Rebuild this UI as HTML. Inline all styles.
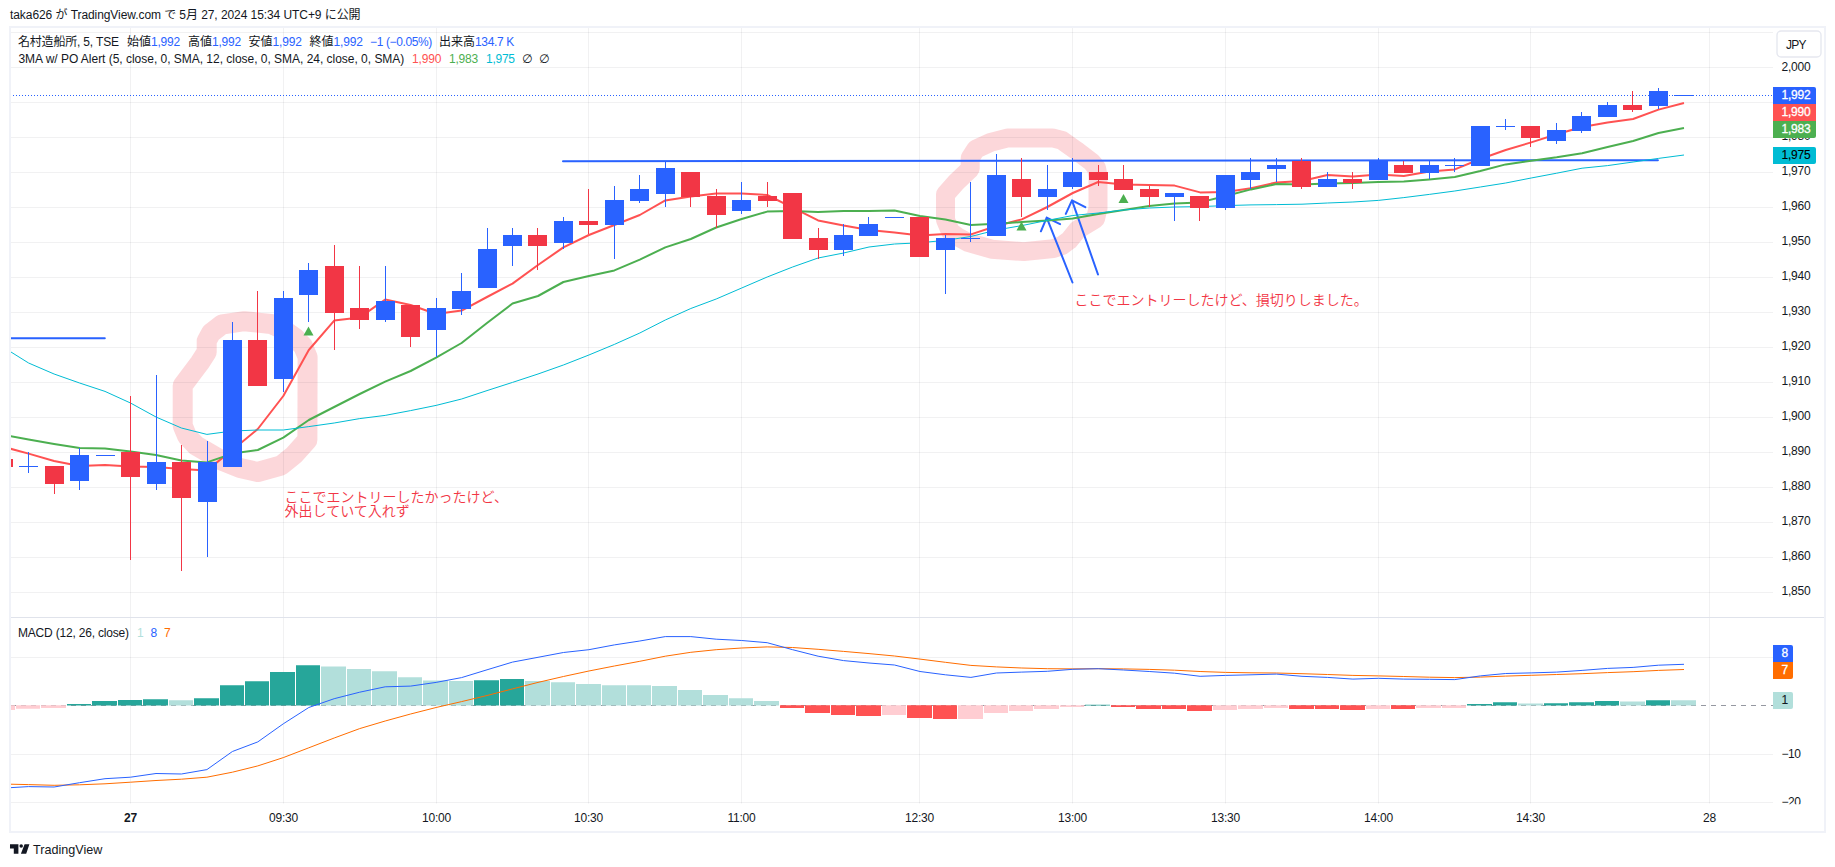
<!DOCTYPE html>
<html lang="ja"><head><meta charset="utf-8"><title>名村造船所 chart</title>
<style>html,body{margin:0;padding:0;background:#fff;}body{width:1835px;height:867px;overflow:hidden;position:relative;}svg{position:absolute;left:0;top:0;display:block;}text{font-family:"Liberation Sans", "Noto Sans CJK JP", sans-serif;font-size:12px;fill:#131722;}.ax text{letter-spacing:-0.24px;}.tg text{letter-spacing:-0.24px;stroke-width:0.3px;}.t{position:absolute;white-space:pre;font-family:"Liberation Sans", "Noto Sans CJK JP", sans-serif;color:#131722;font-size:12px;line-height:14px;}</style></head><body>
<svg width="1835" height="867" viewBox="0 0 1835 867">
<defs><clipPath id="pm"><rect x="11" y="28" width="1762" height="589"/></clipPath><clipPath id="pi"><rect x="11" y="618" width="1762" height="186"/></clipPath><clipPath id="pa"><rect x="1773" y="618" width="51" height="186.2"/></clipPath></defs>
<rect x="10" y="27" width="1815" height="805" fill="#fff" stroke="#f0f2f8" stroke-width="2"/>
<g clip-path="url(#pm)" fill="none" stroke="#f23645" stroke-opacity="0.2" stroke-linejoin="round" stroke-linecap="round"><path d="M244.4 321.2 L222 324.5 L211 333 L206.7 341 L206.7 352 L200 362.5 L182.7 385.6 L182.7 425.6 L187 436 L196 445.5 L222.6 461 L240 468 L257.7 472 L281 465.5 L294 455 L307.4 440 L307.6 357 L303 346 L295.3 338 L284 330 L271 324 Z" stroke-width="20"/><path d="M1008 137.9 L1052.4 137.9 L1062.2 140.4 L1075.9 150.2 L1091.6 162 L1096.5 168 L1098 176 L1098 208 L1095.5 218.8 L1077.8 229.6 L1069 240.4 L1062 245.5 L1053.3 248.6 L1023.9 251.6 L991.6 249.2 L968 242.4 L957 236.5 L950.4 231.6 L945.5 219.8 L945.5 194.3 L956.3 182.2 L970.2 168.8 L970.2 158 L975.9 149.2 L990.6 142.4 Z" stroke-width="19"/></g>
<path d="M11 32.5H1773M11 67.5H1773M11 102.5H1773M11 137.5H1773M11 172.5H1773M11 207.5H1773M11 242.5H1773M11 277.5H1773M11 312.5H1773M11 347.5H1773M11 382.5H1773M11 417.5H1773M11 452.5H1773M11 487.5H1773M11 522.5H1773M11 557.5H1773M11 592.5H1773M11 657.5H1773M11 754.5H1773M11 802.5H1773" stroke="#2a2e39" stroke-opacity="0.065" stroke-width="1" fill="none"/>
<path d="M130.5 28V803.5M283.5 28V803.5M436.5 28V803.5M588.5 28V803.5M741.5 28V803.5M919.5 28V803.5M1072.5 28V803.5M1225.5 28V803.5M1378.5 28V803.5M1530.5 28V803.5M1709.5 28V803.5" stroke="#2a2e39" stroke-opacity="0.065" stroke-width="1" fill="none"/>
<path d="M11 617.5H1824" stroke="#e0e3eb" stroke-width="1" fill="none"/>
<g clip-path="url(#pm)">
<path d="M9 338.25H104.8M563 161.2L1657.9 160.2" stroke="#2962ff" stroke-width="2" fill="none" stroke-linecap="round"/>
<path d="M1072.5 282.5L1046.7 217.6M1040.9 231.3L1046.7 217.6L1060.1 224.1M1098 274.5L1072 200.4M1065.8 213.9L1072 200.4L1085.3 207.2" stroke="#2962ff" stroke-width="2" fill="none" stroke-linecap="round" stroke-linejoin="round"/>
<polyline points="10.0,448.6 28.6,453.6 54.1,461.0 79.6,466.0 105.0,465.0 130.5,466.6 156.0,467.0 181.4,469.0 206.9,470.4 232.4,450.0 257.8,429.0 283.3,396.0 308.8,350.0 334.2,320.6 359.7,317.4 385.2,299.6 410.6,305.0 436.1,314.0 461.6,310.6 487.0,297.0 512.5,283.6 538.0,265.0 563.4,247.4 588.9,235.0 614.4,225.0 639.8,215.0 665.3,200.4 690.8,196.4 716.2,193.6 741.7,193.6 767.2,195.0 792.6,207.6 818.1,220.4 843.6,225.6 869.0,230.0 894.5,232.6 920.0,235.4 945.4,234.0 970.9,234.4 996.4,226.0 1021.8,219.4 1047.3,207.0 1072.8,193.0 1098.2,182.0 1123.7,184.4 1149.2,185.0 1174.6,185.6 1200.1,192.4 1225.6,192.0 1251.0,188.2 1276.5,182.4 1302.0,181.0 1327.4,175.0 1352.9,176.4 1378.4,174.4 1403.8,176.0 1429.3,171.6 1454.8,169.4 1480.3,159.0 1505.7,150.0 1531.2,142.4 1556.7,134.2 1582.1,127.0 1607.6,122.4 1633.1,119.0 1658.5,109.6 1684.0,103.0" fill="none" stroke="#ff5252" stroke-width="2" stroke-linejoin="round"/>
<polyline points="10.0,436.0 28.6,439.6 54.1,444.0 79.6,448.0 105.0,448.6 130.5,451.6 156.0,455.0 181.4,460.4 206.9,462.4 232.4,453.6 257.8,450.0 283.3,437.6 308.8,420.0 334.2,407.0 359.7,394.0 385.2,381.6 410.6,371.0 436.1,357.6 461.6,343.0 487.0,323.0 512.5,303.5 538.0,296.0 563.4,282.0 588.9,276.0 614.4,270.4 639.8,259.6 665.3,247.4 690.8,239.0 716.2,227.5 741.7,219.0 767.2,211.6 792.6,211.0 818.1,212.0 843.6,211.0 869.0,211.0 894.5,210.6 920.0,216.0 945.4,219.6 970.9,225.0 996.4,223.8 1021.8,222.0 1047.3,220.6 1072.8,218.5 1098.2,214.0 1123.7,210.0 1149.2,206.0 1174.6,203.4 1200.1,202.4 1225.6,196.0 1251.0,189.4 1276.5,184.0 1302.0,184.4 1327.4,183.6 1352.9,183.0 1378.4,182.0 1403.8,181.4 1429.3,179.4 1454.8,177.0 1480.3,171.0 1505.7,164.4 1531.2,160.8 1556.7,157.3 1582.1,153.2 1607.6,147.0 1633.1,141.0 1658.5,133.0 1684.0,128.0" fill="none" stroke="#4caf50" stroke-width="2" stroke-linejoin="round"/>
<polyline points="10.0,351.4 28.6,363.0 54.1,374.0 79.6,383.0 105.0,391.4 130.5,403.0 156.0,417.0 181.4,428.0 206.9,434.4 232.4,431.0 257.8,430.0 283.3,430.0 308.8,426.6 334.2,423.0 359.7,418.6 385.2,415.4 410.6,410.6 436.1,405.4 461.6,399.0 487.0,390.6 512.5,382.4 538.0,374.0 563.4,365.0 588.9,355.0 614.4,344.4 639.8,333.0 665.3,320.0 690.8,308.5 716.2,299.0 741.7,288.0 767.2,277.0 792.6,267.0 818.1,258.0 843.6,253.0 869.0,247.0 894.5,244.0 920.0,242.8 945.4,240.3 970.9,236.5 996.4,230.0 1021.8,225.6 1047.3,220.4 1072.8,215.5 1098.2,213.0 1123.7,210.0 1149.2,208.0 1174.6,207.0 1200.1,206.6 1225.6,205.6 1251.0,204.9 1276.5,204.6 1302.0,204.2 1327.4,203.0 1352.9,202.0 1378.4,200.4 1403.8,197.6 1429.3,194.4 1454.8,191.0 1480.3,187.0 1505.7,183.0 1531.2,178.0 1556.7,173.2 1582.1,168.2 1607.6,165.6 1633.1,162.0 1658.5,158.4 1684.0,155.0" fill="none" stroke="#00bcd4" stroke-width="1" stroke-linejoin="round"/>
<path d="M308.5 326.5L313.5 335.5L303.5 335.5Z" fill="#4caf50"/>
<path d="M1021.5 221.5L1026.5 230.5L1016.5 230.5Z" fill="#4caf50"/>
<path d="M1123.5 194.0L1128.5 203.0L1118.5 203.0Z" fill="#4caf50"/>
<path d="M10 95.5H1773" stroke="#2962ff" stroke-width="1" stroke-dasharray="1 2" fill="none" shape-rendering="crispEdges"/>
<path d="M28 452h1v21h-1zM79 448h1v42h-1zM105 455h1v1h-1zM156 375h1v115h-1zM207 441h1v116h-1zM232 322h1v145h-1zM283 291h1v101h-1zM308 263h1v59h-1zM385 266h1v56h-1zM436 298h1v59h-1zM461 273h1v42h-1zM487 228h1v60h-1zM512 228h1v38h-1zM563 217h1v32h-1zM614 186h1v73h-1zM639 175h1v28h-1zM665 161h1v46h-1zM741 182h1v32h-1zM843 224h1v32h-1zM868 217h1v19h-1zM894 217h1v1h-1zM945 235h1v59h-1zM970 182h1v60h-1zM996 154h1v82h-1zM1047 165h1v45h-1zM1072 158h1v31h-1zM1174 193h1v28h-1zM1225 175h1v35h-1zM1250 158h1v31h-1zM1276 158h1v24h-1zM1327 172h1v15h-1zM1378 158h1v22h-1zM1429 160h1v19h-1zM1454 158h1v14h-1zM1480 126h1v40h-1zM1505 119h1v11h-1zM1556 123h1v21h-1zM1581 112h1v21h-1zM1607 102h1v15h-1zM1658 88h1v21h-1zM1683 95h1v1h-1zM19 466h19v1h-19zM70 455h19v26h-19zM96 455h19v1h-19zM147 462h19v22h-19zM198 462h19v40h-19zM223 340h19v127h-19zM274 298h19v81h-19zM299 270h19v25h-19zM376 301h19v19h-19zM427 308h19v22h-19zM452 291h19v18h-19zM478 249h19v39h-19zM503 235h19v11h-19zM554 221h19v22h-19zM605 200h19v25h-19zM630 189h19v12h-19zM656 168h19v26h-19zM732 200h19v11h-19zM834 235h19v15h-19zM859 224h19v12h-19zM885 217h19v1h-19zM936 238h19v12h-19zM961 238h19v1h-19zM987 175h19v61h-19zM1038 189h19v8h-19zM1063 172h19v15h-19zM1165 193h19v4h-19zM1216 175h19v33h-19zM1241 172h19v8h-19zM1267 165h19v4h-19zM1318 179h19v8h-19zM1369 160h19v20h-19zM1420 165h19v8h-19zM1445 165h19v1h-19zM1471 126h19v40h-19zM1496 126h19v1h-19zM1547 130h19v11h-19zM1572 116h19v15h-19zM1598 105h19v12h-19zM1649 91h19v15h-19zM1674 95h19v1h-19z" fill="#2962ff" shape-rendering="crispEdges"/>
<path d="M3 459h1v8h-1zM54 466h1v28h-1zM130 396h1v164h-1zM181 445h1v126h-1zM257 291h1v95h-1zM334 245h1v105h-1zM359 266h1v63h-1zM410 305h1v42h-1zM537 228h1v42h-1zM588 189h1v45h-1zM690 172h1v35h-1zM716 189h1v39h-1zM767 182h1v25h-1zM792 193h1v46h-1zM818 228h1v31h-1zM919 217h1v40h-1zM1021 158h1v59h-1zM1098 165h1v21h-1zM1123 165h1v25h-1zM1149 186h1v21h-1zM1199 196h1v25h-1zM1301 158h1v31h-1zM1352 172h1v17h-1zM1403 161h1v12h-1zM1530 126h1v21h-1zM1632 91h1v21h-1zM-6 459h19v8h-19zM45 466h19v18h-19zM121 452h19v25h-19zM172 462h19v36h-19zM248 340h19v46h-19zM325 266h19v47h-19zM350 308h19v12h-19zM401 305h19v32h-19zM528 235h19v11h-19zM579 221h19v4h-19zM681 172h19v25h-19zM707 196h19v19h-19zM758 196h19v5h-19zM783 193h19v46h-19zM809 238h19v12h-19zM910 217h19v40h-19zM1012 179h19v18h-19zM1089 172h19v8h-19zM1114 179h19v11h-19zM1140 189h19v8h-19zM1190 196h19v12h-19zM1292 161h19v26h-19zM1343 179h19v4h-19zM1394 165h19v8h-19zM1521 126h19v12h-19zM1623 105h19v5h-19z" fill="#f23645" shape-rendering="crispEdges"/>
</g>
<g clip-path="url(#pi)">
<path d="M11 705.5H1773" stroke="#9598a1" stroke-width="1" stroke-dasharray="5 5" fill="none"/>
<path d="M67.0 704.0h24.0v1.4h-24.0zM92.0 701.1h25.0v4.3h-25.0zM118.0 700.1h24.0v5.3h-24.0zM143.0 699.2h25.0v6.2h-25.0zM194.0 698.3h25.0v7.1h-25.0zM220.0 685.2h24.0v20.2h-24.0zM245.0 681.3h24.0v24.1h-24.0zM270.0 672.1h25.0v33.3h-25.0zM296.0 665.2h24.0v40.2h-24.0zM474.0 680.2h25.0v25.2h-25.0zM500.0 679.1h24.0v26.3h-24.0zM1085.0 704.7h25.0v0.7h-25.0zM1467.0 704.0h25.0v1.4h-25.0zM1493.0 702.2h24.0v3.2h-24.0zM1544.0 703.3h24.0v2.1h-24.0zM1569.0 702.2h25.0v3.2h-25.0zM1595.0 701.1h24.0v4.3h-24.0zM1646.0 700.3h24.0v5.1h-24.0z" fill="#26a69a"/>
<path d="M169.0 700.3h24.0v5.1h-24.0zM321.0 666.5h25.0v38.9h-25.0zM347.0 669.1h24.0v36.3h-24.0zM372.0 671.3h25.0v34.1h-25.0zM398.0 677.2h24.0v28.2h-24.0zM423.0 680.4h25.0v25.0h-25.0zM449.0 681.1h24.0v24.3h-24.0zM525.0 681.1h25.0v24.3h-25.0zM551.0 682.2h24.0v23.2h-24.0zM576.0 684.1h25.0v21.3h-25.0zM602.0 685.2h24.0v20.2h-24.0zM627.0 685.2h24.0v20.2h-24.0zM652.0 686.1h25.0v19.3h-25.0zM678.0 690.0h24.0v15.4h-24.0zM703.0 695.0h25.0v10.4h-25.0zM729.0 698.3h24.0v7.1h-24.0zM754.0 701.1h25.0v4.3h-25.0zM1518.0 703.5h25.0v1.9h-25.0zM1620.0 701.6h25.0v3.8h-25.0zM1671.0 700.3h25.0v5.1h-25.0z" fill="#b2dfdb"/>
<path d="M780.0 705.2h24.0v2.9h-24.0zM805.0 705.2h25.0v7.9h-25.0zM831.0 705.2h24.0v9.9h-24.0zM856.0 705.2h25.0v10.8h-25.0zM907.0 705.2h25.0v12.9h-25.0zM933.0 705.2h24.0v13.8h-24.0zM1111.0 705.2h24.0v1.8h-24.0zM1136.0 705.2h25.0v3.8h-25.0zM1162.0 705.2h24.0v3.8h-24.0zM1187.0 705.2h25.0v5.7h-25.0zM1289.0 705.2h25.0v3.8h-25.0zM1315.0 705.2h24.0v3.8h-24.0zM1340.0 705.2h25.0v4.9h-25.0zM1391.0 705.2h24.0v3.8h-24.0z" fill="#ff5252"/>
<path d="M-10.0 705.2h25.0v4.7h-25.0zM16.0 705.2h24.0v3.6h-24.0zM41.0 705.2h25.0v2.7h-25.0zM882.0 705.2h24.0v9.9h-24.0zM958.0 705.2h25.0v13.8h-25.0zM984.0 705.2h24.0v7.7h-24.0zM1009.0 705.2h24.0v5.7h-24.0zM1034.0 705.2h25.0v3.8h-25.0zM1060.0 705.2h24.0v1.8h-24.0zM1213.0 705.2h24.0v4.7h-24.0zM1238.0 705.2h25.0v3.8h-25.0zM1264.0 705.2h24.0v2.7h-24.0zM1366.0 705.2h24.0v3.8h-24.0zM1416.0 705.2h25.0v2.7h-25.0zM1442.0 705.2h24.0v2.7h-24.0z" fill="#ffcdd2"/>
<polyline points="10.0,784.2 28.6,784.6 54.1,785.3 79.6,784.8 105.0,783.8 130.5,782.2 156.0,780.5 181.4,779.2 206.9,777.2 232.4,772.2 257.8,765.9 283.3,757.6 308.8,747.8 334.2,738.0 359.7,728.6 385.2,721.0 410.6,714.0 436.1,707.5 461.6,701.6 487.0,695.5 512.5,688.9 538.0,682.4 563.4,676.5 588.9,671.0 614.4,666.0 639.8,661.3 665.3,656.2 690.8,652.3 716.2,649.7 741.7,648.0 767.2,646.9 792.6,647.5 818.1,649.3 843.6,651.4 869.0,653.6 894.5,656.0 920.0,659.1 945.4,662.3 970.9,665.4 996.4,666.9 1021.8,668.0 1047.3,668.7 1072.8,668.9 1098.2,668.7 1123.7,668.9 1149.2,669.4 1174.6,670.2 1200.1,671.5 1225.6,672.4 1251.0,672.8 1276.5,673.0 1302.0,673.7 1327.4,674.5 1352.9,675.4 1378.4,675.9 1403.8,676.5 1429.3,677.2 1454.8,677.6 1480.3,677.1 1505.7,676.1 1531.2,675.3 1556.7,674.5 1582.1,673.7 1607.6,672.6 1633.1,671.7 1658.5,670.4 1684.0,669.5" fill="none" stroke="#ff6d00" stroke-width="1" stroke-linejoin="round"/>
<polyline points="10.0,787.7 28.6,786.6 54.1,787.0 79.6,782.7 105.0,778.7 130.5,777.2 156.0,773.5 181.4,774.0 206.9,769.6 232.4,751.5 257.8,741.9 283.3,723.8 308.8,707.5 334.2,698.7 359.7,692.2 385.2,686.8 410.6,686.1 436.1,682.4 461.6,677.6 487.0,669.8 512.5,662.1 538.0,657.3 563.4,652.5 588.9,649.7 614.4,644.9 639.8,641.0 665.3,636.6 690.8,636.6 716.2,639.2 741.7,640.5 767.2,642.7 792.6,649.7 818.1,656.2 843.6,660.6 869.0,663.0 894.5,665.0 920.0,671.5 945.4,674.8 970.9,677.4 996.4,673.0 1021.8,672.1 1047.3,671.3 1072.8,669.3 1098.2,668.7 1123.7,670.0 1149.2,671.5 1174.6,673.2 1200.1,676.3 1225.6,675.4 1251.0,674.8 1276.5,674.1 1302.0,676.3 1327.4,677.4 1352.9,679.1 1378.4,678.3 1403.8,679.1 1429.3,679.3 1454.8,679.6 1480.3,675.9 1505.7,673.5 1531.2,672.9 1556.7,672.1 1582.1,670.4 1607.6,668.4 1633.1,667.4 1658.5,665.2 1684.0,664.3" fill="none" stroke="#2962ff" stroke-width="1" stroke-linejoin="round"/>
</g>
<g class="ax">
<text x="1781.5" y="70.7">2,000</text>
<text x="1781.5" y="104.7">1,990</text>
<text x="1781.5" y="139.7">1,980</text>
<text x="1781.5" y="174.7">1,970</text>
<text x="1781.5" y="209.7">1,960</text>
<text x="1781.5" y="244.7">1,950</text>
<text x="1781.5" y="279.7">1,940</text>
<text x="1781.5" y="314.7">1,930</text>
<text x="1781.5" y="349.7">1,920</text>
<text x="1781.5" y="384.7">1,910</text>
<text x="1781.5" y="419.7">1,900</text>
<text x="1781.5" y="454.7">1,890</text>
<text x="1781.5" y="489.7">1,880</text>
<text x="1781.5" y="524.7">1,870</text>
<text x="1781.5" y="559.7">1,860</text>
<text x="1781.5" y="594.7">1,850</text>
<g clip-path="url(#pa)"><text x="1781.5" y="708.7">0</text><text x="1781.5" y="757.7" style="letter-spacing:-0.45px">−10</text><text x="1781.5" y="805.7" style="letter-spacing:-0.45px">−20</text></g>
<text x="130.5" y="822.2" text-anchor="middle" style="font-weight:bold">27</text>
<text x="283.5" y="822.2" text-anchor="middle">09:30</text>
<text x="436.5" y="822.2" text-anchor="middle">10:00</text>
<text x="588.5" y="822.2" text-anchor="middle">10:30</text>
<text x="741.5" y="822.2" text-anchor="middle">11:00</text>
<text x="919.5" y="822.2" text-anchor="middle">12:30</text>
<text x="1072.5" y="822.2" text-anchor="middle">13:00</text>
<text x="1225.5" y="822.2" text-anchor="middle">13:30</text>
<text x="1378.5" y="822.2" text-anchor="middle">14:00</text>
<text x="1530.5" y="822.2" text-anchor="middle">14:30</text>
<text x="1709.5" y="822.2" text-anchor="middle">28</text>
</g>
<rect x="1777" y="31" width="44" height="26" rx="4" ry="4" fill="#fff" stroke="#e6e8f0" stroke-width="1.4"/>
<text x="1786" y="48.8" style="letter-spacing:-0.7px">JPY</text>
<path d="M1773 87h41a2 2 0 0 1 2 2v15h-43z" fill="#2962ff"/>
<rect x="1773" y="104" width="43" height="17" fill="#ff5252"/>
<path d="M1773 121h43v15a2 2 0 0 1-2 2h-41z" fill="#4caf50"/>
<path d="M1773 147h41a2 2 0 0 1 2 2v13a2 2 0 0 1-2 2h-41z" fill="#00bcd4"/>
<path d="M1773 645h18a2 2 0 0 1 2 2v15h-20z" fill="#2962ff"/>
<path d="M1773 662h20v15a2 2 0 0 1-2 2h-18z" fill="#ff6d00"/>
<path d="M1773 692h18a2 2 0 0 1 2 2v13a2 2 0 0 1-2 2h-18z" fill="#b2dfdb"/>
<g class="tg">
<text x="1781.5" y="98.7" style="fill:#fff;stroke:#fff">1,992</text>
<text x="1781.5" y="115.7" style="fill:#fff;stroke:#fff">1,990</text>
<text x="1781.5" y="132.7" style="fill:#fff;stroke:#fff">1,983</text>
<text x="1781.5" y="158.7" style="fill:#000;stroke:#000;stroke-width:0.12px">1,975</text>
<text x="1781.5" y="656.7" style="fill:#fff;stroke:#fff">8</text>
<text x="1781.5" y="673.7" style="fill:#fff;stroke:#fff">7</text>
<text x="1781.5" y="703.7" style="fill:#131722;stroke:#131722;stroke-width:0.12px">1</text>
</g>
<text x="1074.5" y="304.5" style="font-size:14px;font-weight:350;fill:#f23645">ここでエントリーしたけど、損切りしました。</text>
<text x="284.6" y="502.3" style="font-size:14px;font-weight:350;fill:#f23645">ここでエントリーしたかったけど、</text>
<text x="284.6" y="516.3" style="font-size:14px;font-weight:350;fill:#f23645">外出していて入れず</text>
<path d="M10 844.2h8.4v9.5h-4.6v-5.1h-3.8zM24.6 844.2h4.8l-3.2 9.5h-5.3z" fill="#131722"/><circle cx="21.2" cy="845.9" r="1.75" fill="#131722"/>
<text x="33" y="853.7" style="font-size:12.6px">TradingView</text>
</svg>
<span class="t" id="hd" style="left:10.0px;top:8.0px;color:#131722;letter-spacing:-0.073px">taka626 が TradingView.com で 5月 27, 2024 15:34 UTC+9 に公開</span>
<span class="t" id="a0" style="left:18.0px;top:35.0px;color:#131722;letter-spacing:-0.197px">名村造船所, 5, TSE</span>
<span class="t" id="a1" style="left:127.0px;top:35.0px;color:#131722;letter-spacing:-0.008px">始値</span>
<span class="t" id="a2" style="left:151.0px;top:35.0px;color:#2962ff;letter-spacing:-0.206px">1,992</span>
<span class="t" id="a3" style="left:188.0px;top:35.0px;color:#131722;letter-spacing:-0.008px">高値</span>
<span class="t" id="a4" style="left:212.0px;top:35.0px;color:#2962ff;letter-spacing:-0.206px">1,992</span>
<span class="t" id="a5" style="left:248.6px;top:35.0px;color:#131722;letter-spacing:-0.008px">安値</span>
<span class="t" id="a6" style="left:272.6px;top:35.0px;color:#2962ff;letter-spacing:-0.166px">1,992</span>
<span class="t" id="a7" style="left:309.6px;top:35.0px;color:#131722;letter-spacing:-0.008px">終値</span>
<span class="t" id="a8" style="left:333.6px;top:35.0px;color:#2962ff;letter-spacing:-0.206px">1,992</span>
<span class="t" id="a9" style="left:370.0px;top:35.0px;color:#2962ff;letter-spacing:-0.368px">−1 (−0.05%)</span>
<span class="t" id="a10" style="left:439.0px;top:35.0px;color:#131722;letter-spacing:-0.005px">出来高</span>
<span class="t" id="a11" style="left:475.0px;top:35.0px;color:#2962ff;letter-spacing:-0.339px">134.7 K</span>
<span class="t" id="b0" style="left:18.4px;top:52.0px;color:#131722;letter-spacing:-0.022px">3MA w/ PO Alert (5, close, 0, SMA, 12, close, 0, SMA, 24, close, 0, SMA)</span>
<span class="t" id="b1" style="left:412.0px;top:52.0px;color:#ff5252;letter-spacing:-0.166px">1,990</span>
<span class="t" id="b2" style="left:449.0px;top:52.0px;color:#4caf50;letter-spacing:-0.206px">1,983</span>
<span class="t" id="b3" style="left:486.0px;top:52.0px;color:#00bcd4;letter-spacing:-0.246px">1,975</span>
<span class="t" id="b4" style="left:522.0px;top:52.0px;color:#131722;letter-spacing:0.000px;font-family:&quot;DejaVu Sans&quot;,sans-serif;font-size:12px">∅</span>
<span class="t" id="b5" style="left:539.0px;top:52.0px;color:#131722;letter-spacing:0.000px;font-family:&quot;DejaVu Sans&quot;,sans-serif;font-size:12px">∅</span>
<span class="t" id="c0" style="left:17.9px;top:626.0px;color:#131722;letter-spacing:-0.185px">MACD (12, 26, close)</span>
<span class="t" id="c1" style="left:137.0px;top:626.0px;color:#b2dfdb;letter-spacing:-0.387px">1</span>
<span class="t" id="c2" style="left:150.4px;top:626.0px;color:#2962ff;letter-spacing:-0.388px">8</span>
<span class="t" id="c3" style="left:164.0px;top:626.0px;color:#ff6d00;letter-spacing:-0.387px">7</span>
</body></html>
